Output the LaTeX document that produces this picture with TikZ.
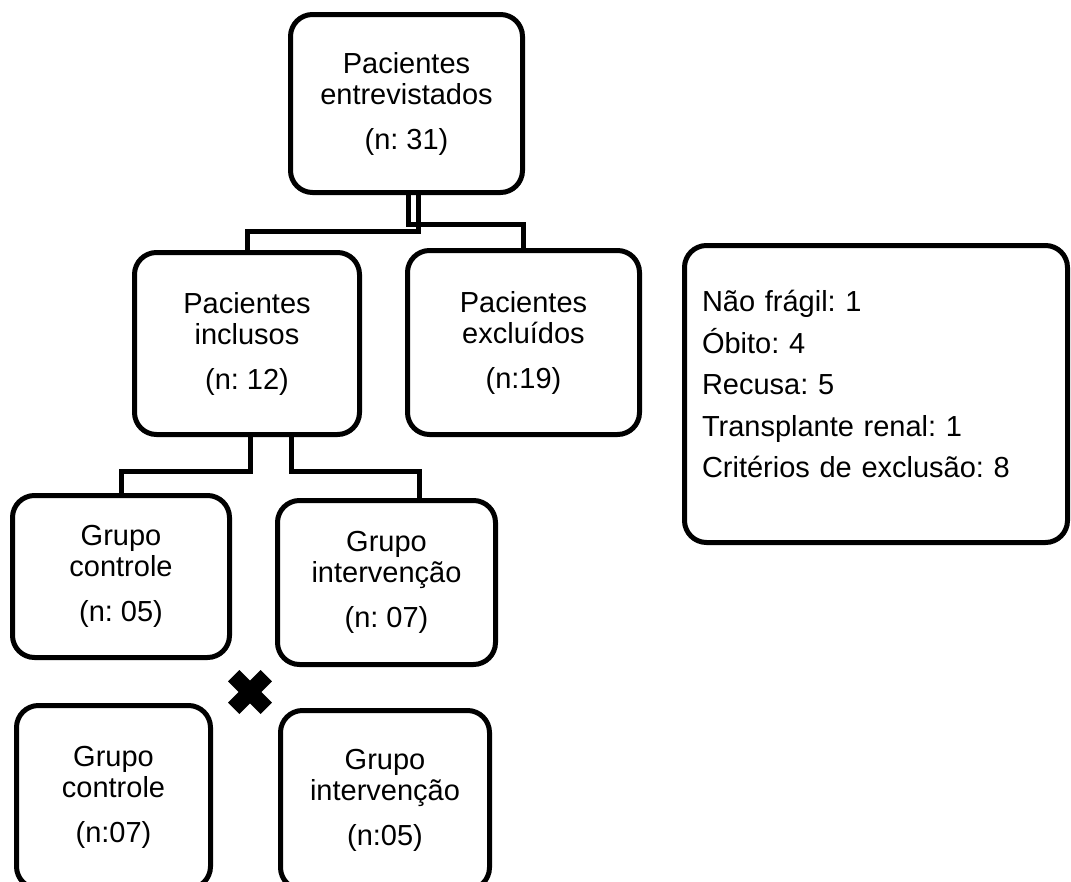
\documentclass[tikz,border=0pt]{standalone}
\usepackage{fontspec}
\setmainfont{Liberation Sans}
\frenchspacing
\begin{document}
\begin{tikzpicture}[x=1pt,y=-1pt,
  box/.style={draw, line width=5pt, rounded corners=22pt, inner sep=0pt, align=center, font=\fontsize{29}{31}\selectfont},
  conn/.style={draw, line width=5pt},
  crossarm/.style={fill=black}
]
\useasboundingbox (0,0) rectangle (1071,881);
\clip (0,0) rectangle (1071,881);

\node[box, minimum width=232pt, minimum height=178pt] (top) at (406.5,103.5) {Pacientes\\entrevistados\\[14pt](n: 31)};
\node[box, minimum width=225pt, minimum height=182pt] (incl) at (247,343.5) {Pacientes\\inclusos\\[14pt](n: 12)};
\node[box, minimum width=232pt, minimum height=184pt] (excl) at (523.5,342.5) {Pacientes\\excluídos\\[14pt](n:19)};
\node[box, minimum width=383pt, minimum height=297pt, text width=348pt, align=left, font=\fontsize{29}{41.6}\selectfont] (list) at (876,394) {Não frágil: 1\\Óbito: 4\\Recusa: 5\\Transplante renal: 1\\Critérios de exclusão: 8\rule[-20pt]{0pt}{20pt}};
\node[box, minimum width=217pt, minimum height=162pt] (c1) at (121,576.5) {Grupo\\controle\\[14pt](n: 05)};
\node[box, minimum width=218pt, minimum height=164pt] (i1) at (386.5,582.5) {Grupo\\intervenção\\[14pt](n: 07)};
\node[box, minimum width=194pt, minimum height=183pt] (c2) at (113.5,797) {Grupo\\controle\\[14pt](n:07)};
\node[box, minimum width=209pt, minimum height=179pt] (i2) at (385,800) {Grupo\\intervenção\\[14pt](n:05)};

\draw[conn] ([xshift=11.5pt]top.south) -- ++(0,36.5) -| (incl.north);
\draw[conn] ([xshift=1.5pt]top.south) -- ++(0,29.5) -| (excl.north);
\draw[conn] ([xshift=3pt]incl.south) -- ++(0,34.5) -| (c1.north);
\draw[conn] ([xshift=44pt]incl.south) -- ++(0,34.5) -| ([xshift=32.5pt]i1.north);

\fill[crossarm, rotate around={45:(250,692)}] (226.9,684) rectangle (273.1,700);
\fill[crossarm, rotate around={-45:(250,692)}] (226.9,684) rectangle (273.1,700);
\end{tikzpicture}
\end{document}
